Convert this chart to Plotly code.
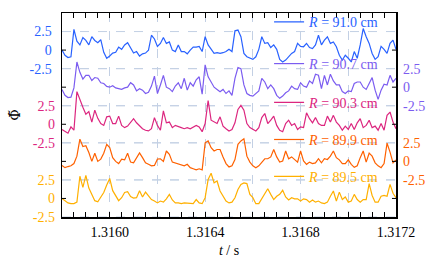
import plotly.graph_objects as go

# ---------------- data ----------------
# sample times (uniform sampling grid of the probe signal), seconds
TIME_S = [round(1.3158 + k * 1.25e-5, 7) for k in range(113)]

R_CM = ["91.0", "90.7", "90.3", "89.9", "89.5"]

PHI_R910 = [0.0, -0.7, -1.0, -0.9, 2.8, 1.2, 0.7, 1.7, 1.3, 0.7,
            1.8, 1.3, 1.0, 1.4, -0.3, -1.1, -0.8, -0.4, -0.3, 0.4,
            0.1, 0.7, 1.0, 0.2, -0.4, -0.2, -0.8, -0.5, -0.4, 0.0,
            2.0, 1.5, 0.5, 0.9, 1.7, 0.9, 1.1, 0.0, -0.2, 0.7,
            -0.2, -0.2, -0.5, 0.0, 0.4, 0.4, 0.5, -0.2, 1.8, 0.7,
            0.1, -0.45, -0.35, -0.45, -0.35, -0.2, 0.1, -0.2, 2.6, 2.7,
            1.8, -0.45, -0.9, -1.1, -1.25, -0.9, 0.1, 1.8, 0.9, 1.0,
            0.35, 0.7, 0.1, -1.25, -1.6, -1.35, -0.9, -0.45, -0.2, 0.9,
            0.5, 0.45, 0.9, 0.35, 0.2, 0.7, 2.0, 0.7, 1.35, 1.8,
            0.9, 1.1, 0.45, -0.7, -1.35, -0.7, -1.1, -1.6, -0.2, -1.1,
            0.7, 2.9, 1.8, 0.9, -0.45, -1.25, -0.9, 0.5, 0.1, -0.45,
            0.9, 1.35, 0.1]

PHI_R907 = [-0.3, -1.1, -1.4, -1.35, -0.1, 3.4, 2.0, 1.1, 1.6, 1.6,
            0.9, 1.3, 1.2, 0.6, 0.5, 0.1, 0.0, 0.2, -0.1, -0.2,
            -0.3, -0.1, 0.0, 0.6, 0.3, -0.5, -0.2, -0.4, -0.85, -0.7,
            0.15, 1.5, -0.85, 0.3, 1.6, 0.0, -0.2, -0.6, 0.15, 0.6,
            -0.2, 1.2, -0.4, 0.6, 0.15, 1.0, 1.4, -0.95, 3.0, 1.4,
            0.7, 0.0, -0.3, -0.6, -0.3, -0.85, -0.5, -1.1, 1.2, 2.65,
            2.5, 0.3, -0.85, -1.1, -1.2, -0.85, -0.5, 1.2, 0.7, -0.2,
            0.3, -0.2, -1.1, -1.5, -1.2, -0.75, -0.5, 0.15, -0.2, -0.3,
            0.6, 0.15, 0.0, 0.85, 0.5, 1.75, 1.6, -0.2, 1.6, 0.3,
            1.75, 0.85, 0.3, 0.3, -0.6, -0.85, -0.5, -0.6, 0.5, 0.7,
            0.7, 0.0, -0.3, 0.5, 1.3, -0.4, -1.65, -0.4, 0.4, 0.3,
            1.6, 0.7, 1.2]

PHI_R903 = [-0.7, -1.0, -1.2, -0.35, -0.8, 4.4, 3.2, 2.3, 1.35, 1.7,
            0.3, 1.9, 0.8, 0.1, -0.15, 1.0, 1.1, 0.1, 0.1, 1.1,
            -0.15, -0.45, -0.25, 0.3, 0.75, 0.2, -0.15, -0.6, -0.8, -0.9,
            -0.6, 0.9, -0.15, -0.8, 1.8, 0.2, 0.3, -0.45, -0.15, -0.35,
            -0.45, -0.6, -0.45, -0.6, -0.35, -0.15, -0.35, -1.0, 0.1, 3.2,
            0.55, 0.3, 0.1, 1.0, -0.25, -0.6, -0.9, -0.7, 0.2, 2.0,
            2.55, 1.9, 0.1, -0.45, -0.7, -0.9, -0.45, 0.9, 1.45, 0.1,
            0.55, 1.1, -0.15, -0.8, -1.0, 0.1, 0.55, -0.15, 0.1, -0.7,
            -0.35, -0.45, 1.55, 0.75, 0.2, 0.9, 0.1, -0.15, -0.15, 1.1,
            0.3, 1.2, 0.3, -0.15, -0.8, -0.25, -0.7, 0.1, -0.7, 0.2,
            0.75, -0.45, -0.15, 0.55, -0.45, -0.25, -0.8, 0.1, -0.8, 1.2,
            1.65, 0.3, -0.6]

PHI_R899 = [-0.55, -0.85, -0.7, -0.6, -0.3, 0.7, 3.0, 2.0, 2.1, 1.2,
            0.0, 1.1, 0.0, 0.3, 1.1, 2.3, 1.85, 0.5, 0.0, -0.3,
            0.3, 0.2, 1.1, -0.1, -0.2, 0.5, 1.15, 0.5, -0.2, -0.4,
            -0.6, -0.55, 0.3, 0.35, 0.0, 1.4, 0.95, -0.1, -0.2, -0.4,
            -0.4, -0.6, -0.4, -0.85, -1.0, -1.15, -1.0, -1.15, 2.5, 2.75,
            1.85, 1.4, 1.6, 1.6, 0.6, -0.3, -0.75, -0.6, 0.25, 2.3,
            2.75, 3.05, 0.7, -0.1, -0.6, -0.85, -0.6, -0.1, 0.35, 0.35,
            0.6, 1.6, 0.6, -0.1, 0.05, 1.4, 0.35, 0.6, 0.2, -0.1,
            1.4, 0.05, -0.4, -0.1, -0.3, -0.2, 0.35, -0.2, 0.35, 0.25,
            0.7, 1.4, 0.5, 0.2, -0.3, -0.3, 0.2, -0.4, -0.8, -0.6,
            0.5, 1.4, -0.1, 1.1, 0.7, -0.2, -0.6, -0.85, -0.3, 2.45,
            1.25, -0.2, 0.2]

PHI_R895 = [0.0, -0.35, -0.6, -0.7, -0.7, -0.5, 3.0, 1.5, 3.1, 1.4,
            0.5, -0.3, -0.45, 0.2, 0.8, 1.8, 2.7, 1.05, 0.35, -0.3,
            0.1, 0.8, 0.9, 0.25, 0.05, 0.1, 1.05, 0.2, 0.85, 0.3,
            -0.15, -0.35, -0.6, -0.35, -0.5, -0.05, 0.55, -0.2, -0.6, -0.6,
            -0.7, -0.6, -0.6, -0.6, -0.7, -0.15, -0.6, -0.7, 0.1, 2.55,
            3.4, 2.1, 2.35, 1.0, 0.4, -0.35, -0.6, -0.5, 0.1, 1.2,
            1.9, 2.1, 2.0, 0.55, 0.1, -0.7, -0.7, -0.05, 0.55, 1.3,
            0.55, -0.15, 0.3, 0.55, 1.1, 0.2, -0.2, 0.1, -0.05, -0.05,
            -0.35, -0.05, -0.15, -0.5, -0.2, -0.5, -0.35, -0.6, -0.7, -0.5,
            0.3, 1.0, -0.35, 0.85, -0.15, 0.2, -0.5, -0.35, 0.55, -0.15,
            -0.5, -0.15, -0.15, 2.0, 0.4, -0.5, -0.5, 0.3, 0.4, 0.3,
            1.9, 0.7, 0.1]

SERIES = [PHI_R910, PHI_R907, PHI_R903, PHI_R899, PHI_R895]

X_TICK_VALS = [1.3158, 1.3160, 1.3162, 1.3164, 1.3166, 1.3168, 1.3170, 1.3172]
X_TICK_TEXT = ["", "1.3160", "", "1.3164", "", "1.3168", "", "1.3172"]
Y_TICK_VALS = [-2.5, 0, 2.5]
Y_TICK_TEXT = ["-2.5", "0", "2.5"]
OFFSET_STEP = 5.0  # vertical separation between stacked signals

# ---------------- style ----------------
COLORS = ["#2962FF", "#7B5CF0", "#DC267F", "#FE6100", "#FFB000"]
FONT = "Liberation Serif, Times New Roman, Times, serif"
GRID = "#c3d0e4"
LEG_Y = [0.955, 0.75, 0.56, 0.378, 0.197]

n = len(SERIES)
lo = -OFFSET_STEP * (n - 1) - 2.5
hi = OFFSET_STEP


def yname(k):
    return "y" if k == 0 else f"y{k + 1}"


def legname(k):
    return "legend" if k == 0 else f"legend{k + 1}"


fig = go.Figure()
for k, (vals, col) in enumerate(zip(SERIES, COLORS)):
    fig.add_trace(go.Scatter(
        x=TIME_S, y=vals, mode="lines",
        line=dict(color=col, width=1.2),
        name=f"<i>R</i> = {R_CM[k]} cm",
        yaxis=yname(k), legend=legname(k),
        hoverinfo="skip",
    ))

layout = dict(
    width=436, height=269,
    margin=dict(l=62, r=40, t=13, b=52, autoexpand=False),
    paper_bgcolor="white", plot_bgcolor="white",
    font=dict(family=FONT, size=14, color="black"),
    xaxis=dict(
        range=[X_TICK_VALS[0], X_TICK_VALS[-1]],
        tickmode="array", tickvals=X_TICK_VALS, ticktext=X_TICK_TEXT,
        ticks="inside", ticklen=5, tickwidth=1, tickcolor="black",
        showline=True, linewidth=1.5, linecolor="black", mirror="allticks",
        showgrid=True, gridcolor=GRID, griddash="dash", gridwidth=1,
        zeroline=False, automargin=False,
        minor=dict(dtick=0.00005, tick0=1.3158, ticks="inside", ticklen=3,
                   tickcolor="black", showgrid=False),
        title=dict(text="<i>t</i> / s", font=dict(size=14), standoff=6),
        ticklabelstandoff=2,
    ),
    showlegend=True,
)

for k in range(n):
    side = "left" if k % 2 == 0 else "right"
    ax = dict(
        range=[lo + OFFSET_STEP * k, hi + OFFSET_STEP * k],
        side=side, automargin=False,
        tickmode="array", tickvals=Y_TICK_VALS, ticktext=Y_TICK_TEXT,
        tickfont=dict(color=COLORS[k], size=14),
        ticks="", showgrid=False, zeroline=False,
        ticklabelstandoff=6,
    )
    if k == 0:
        ax.update(showline=True, linewidth=1.5, linecolor="black", mirror=True,
                  title=dict(text="\u03a6\u0303",
                             font=dict(size=14, family="DejaVu Serif"),
                             standoff=5))
    else:
        ax.update(overlaying="y", anchor="x", showline=False)
    layout["yaxis" if k == 0 else f"yaxis{k + 1}"] = ax
    layout[legname(k)] = dict(
        x=0.62, xanchor="left", y=LEG_Y[k], yanchor="middle",
        bgcolor="rgba(0,0,0,0)", borderwidth=0,
        font=dict(color=COLORS[k], size=14, family=FONT),
    )

fig.update_layout(**layout)

# horizontal dashed guide lines at +/-2.5 of each signal, and short zero ticks
for k in range(n):
    yr = yname(k)
    for gv in (2.5, -2.5):
        fig.add_shape(type="line", xref="paper", x0=0, x1=1, yref=yr, y0=gv, y1=gv,
                      line=dict(color=GRID, width=1, dash="dash"), layer="below")
    for xa, xb in ((0, 0.012), (0.988, 1)):
        fig.add_shape(type="line", xref="paper", x0=xa, x1=xb, yref=yr, y0=0, y1=0,
                      line=dict(color="black", width=1), layer="above")

fig.write_html("out.html",
               config={"displayModeBar": False, "staticPlot": True},
               post_script="document.body.style.margin='0px';"
                           "document.body.style.overflow='hidden';")
